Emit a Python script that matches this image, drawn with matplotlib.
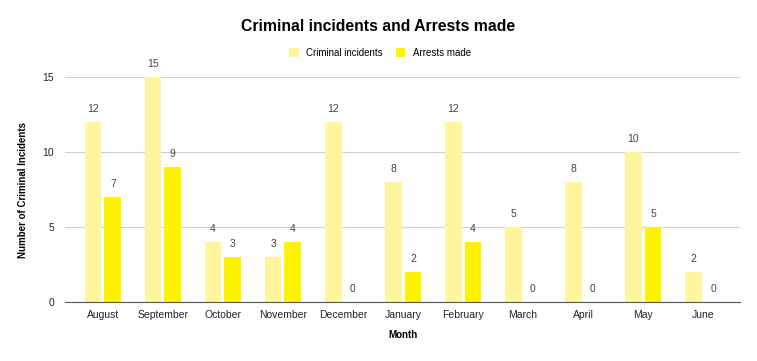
import matplotlib

matplotlib.use("Agg")
import matplotlib.pyplot as plt
import numpy as np

months = ["August", "September", "October", "November", "December", "January",
          "February", "March", "April", "May", "June"]
incidents = [12, 15, 4, 3, 12, 8, 12, 5, 8, 10, 2]
arrests = [7, 9, 3, 4, 0, 2, 4, 0, 0, 5, 0]

plt.rcParams["font.family"] = ["Liberation Sans", "DejaVu Sans"]

fig = plt.figure(figsize=(7.57, 3.61), dpi=100)
ax = fig.add_axes([0.086, 0.1634, 0.892, 0.6233])

x = np.arange(len(months))
w = 0.28
off = 0.165
b1 = ax.bar(x - off, incidents, w, color="#FFF59D", label="Criminal incidents", zorder=3)
b2 = ax.bar(x + off, arrests, w, color="#FFF200", label="Arrests made", zorder=3)
for bars in (b1, b2):
    ax.bar_label(bars, padding=6, fontsize=7.5, color="#444444", clip_on=False)

ax.set_xlim(-0.63, 10.62)
ax.set_ylim(0, 15)
ax.set_yticks([0, 5, 10, 15])
ax.set_xticks(x)
ax.set_xticklabels(months)
ax.tick_params(axis="both", length=0, labelsize=7.5, colors="#222222")
ax.tick_params(axis="x", pad=6)
ax.tick_params(axis="y", pad=8)
ax.grid(axis="y", color="#d0d0d0", linewidth=0.8, zorder=0)
for side in ("top", "right", "left"):
    ax.spines[side].set_visible(False)
ax.spines["bottom"].set_color("#555555")
ax.spines["bottom"].set_zorder(4)

ax.set_xlabel("Month", fontsize=7, fontweight="bold", labelpad=7)
ax.set_ylabel("Number of Criminal Incidents", fontsize=7, fontweight="bold", labelpad=10)

fig.text(0.5, 0.927, "Criminal incidents and Arrests made", ha="center", va="center",
         fontsize=11.3, fontweight="bold")
fig.legend(loc="center", bbox_to_anchor=(0.502, 0.853), ncol=2, frameon=False,
           fontsize=7, handlelength=1.0, handleheight=1.0, columnspacing=1.3,
           handletextpad=0.8)

fig.savefig("out.png", dpi=100)
